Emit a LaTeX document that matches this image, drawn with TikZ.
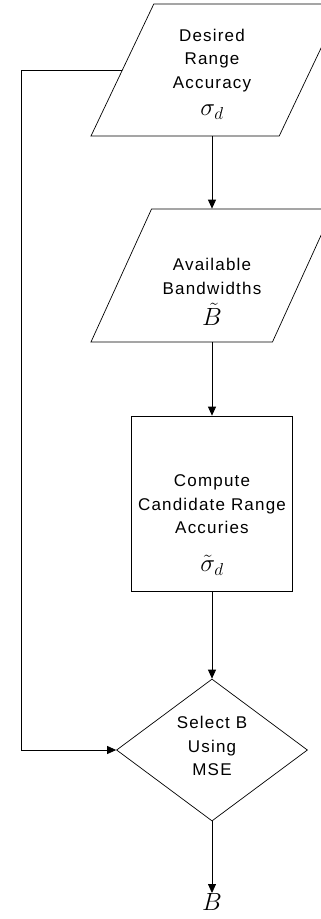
\documentclass[tikz,border=0pt]{standalone}
\usepackage{amsmath,amssymb}
\usepackage{fontspec}
\setmainfont[LetterSpace=7]{Liberation Sans}
\usepackage{tikz}
\usetikzlibrary{shapes.geometric}
\usetikzlibrary{arrows.meta}
\tikzset{flow/.style={->,>={Triangle[width=8pt,length=9pt]},line width=0.8pt}}
\tikzset{io/.style={draw,line width=0.7pt,trapezium,trapezium left angle=63.4,
    trapezium right angle=116.6,trapezium stretches=true,inner sep=1pt}}
\tikzset{txt/.style={align=center,inner sep=0pt,font=\fontsize{17}{23.5}\selectfont}}
\newcommand{\symb}[1]{{\fontsize{24}{24}\selectfont$#1$}}

\begin{document}
\begin{tikzpicture}[x=1pt,y=-1pt]
                \useasboundingbox (0,0) rectangle (321,919);
                \clip (0,0) rectangle (321,919);
                
                % Shapes
                \node[io,minimum width=251pt,minimum height=132pt] (des) at (216.5,70) {};
                \node[io,minimum width=242pt,minimum height=133pt] (avl) at (212,275.5) {};
                \node[draw,line width=0.7pt,minimum width=161pt,minimum height=175pt,inner sep=0pt] (cmp) at (212,503.5) {};
                \node[draw,line width=0.7pt,diamond,minimum width=191pt,minimum height=142pt,inner sep=0pt] (sel) at (212,750) {};
                
                % Labels
                \node[txt] (destxt) at (212,74) {Desired\\Range\\Accuracy\\[4pt]\symb{\sigma_d}};
                \node[txt] (avltxt) at (212,292) {Available\\Bandwidths\\[8pt]\symb{\tilde{B}}};
                \node[txt] (cmptxt) at (212,525) {Compute\\Candidate Range\\Accuries\\[14pt]\symb{\tilde{\sigma}_d}};
                \node[txt] (seltxt) at (212,746) {Select B\\Using\\MSE};
                \node[txt,anchor=north] (res) at (212,893) {\symb{B}};
                
                % Arrows
                \coordinate (loop) at (21,750);
                \draw[flow] (des.south -| cmp.north) -- (avl.north -| cmp.north);
                \draw[flow] (avl.south -| cmp.north) -- (cmp.north);
                \draw[flow] (cmp.south) -- (sel.north);
                \draw[flow] (sel.south) -- (res.north);
                \draw[flow] (des.west) -| (loop) -- (sel.west);
\end{tikzpicture}
\end{document}
